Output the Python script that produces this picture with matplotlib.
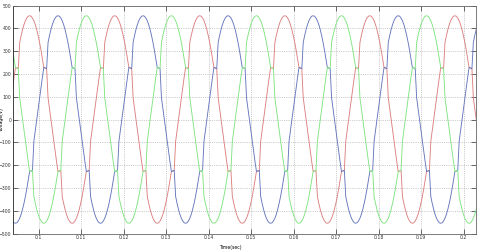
import numpy as np
import matplotlib
matplotlib.use('Agg')
import matplotlib.pyplot as plt

# one cycle of phase A voltage (V), sampled every 6 degrees of 50 Hz,
# starting at its positive zero crossing; commutation notches at +-228 V
phase_a_cycle = [
    0, 48, 95, 141, 185, 228, 226, 223, 338, 368,
    394, 416, 433, 445, 453, 455, 453, 445, 433, 416,
    394, 368, 338, 304, 267, 228, 226, 223, 95, 48,
    0, -48, -95, -141, -185, -228, -226, -223, -338, -368,
    -394, -416, -433, -445, -453, -455, -453, -445, -433, -416,
    -394, -368, -338, -304, -267, -228, -226, -223, -95, -48,
]
cycle_start = 0.0729      # s, phase A zero crossing before the window
period = 0.02             # s
n_cycles = 7
phase_shift = [0, 20, 40]  # samples (120 deg steps) for A, B, C
phase_colors = ['#dc8080', '#6676bc', '#80e480']

xticks = [0.1, 0.11, 0.12, 0.13, 0.14, 0.15, 0.16, 0.17, 0.18, 0.19, 0.2]
xticklabels = ['0.1', '0.11', '0.12', '0.13', '0.14', '0.15', '0.16',
               '0.17', '0.18', '0.19', '0.2']
yticks = [-500, -400, -300, -200, -100, 0, 100, 200, 300, 400, 500]


def main():
    cycle = np.array(phase_a_cycle, dtype=float)
    n = len(cycle)
    t = cycle_start + np.arange(n * n_cycles + 1) * period / n

    fig = plt.figure(figsize=(4.83, 2.5), dpi=100)
    ax = fig.add_axes([0.027, 0.066, 0.958, 0.912])

    for shift, color in zip(phase_shift, phase_colors):
        v = np.roll(cycle, shift)
        v = np.append(np.tile(v, n_cycles), v[0])
        ax.plot(t, v, color=color, lw=0.65)

    ax.set_xlim(0.094, 0.2028)
    ax.set_ylim(-500, 500)
    ax.set_xticks(xticks)
    ax.set_xticklabels(xticklabels)
    ax.set_yticks(yticks)
    ax.tick_params(labelsize=3.3, direction='in', length=3.5, width=0.5,
                   top=True, right=True, pad=1.2, colors='#333333')
    ax.grid(True, ls=':', lw=0.5, color='#a0a0a0')
    for s in ax.spines.values():
        s.set_linewidth(0.6)
        s.set_color('#666666')
    ax.spines['left'].set_color('#222222')

    ax.set_xlabel('Time(sec)', fontsize=3.3)
    ax.set_ylabel('Voltage(V)', fontsize=3.3)
    ax.xaxis.set_label_coords(0.47, -0.05)
    ax.yaxis.set_label_coords(-0.019, 0.5)

    fig.savefig('out.png', dpi=100)


if __name__ == '__main__':
    main()
